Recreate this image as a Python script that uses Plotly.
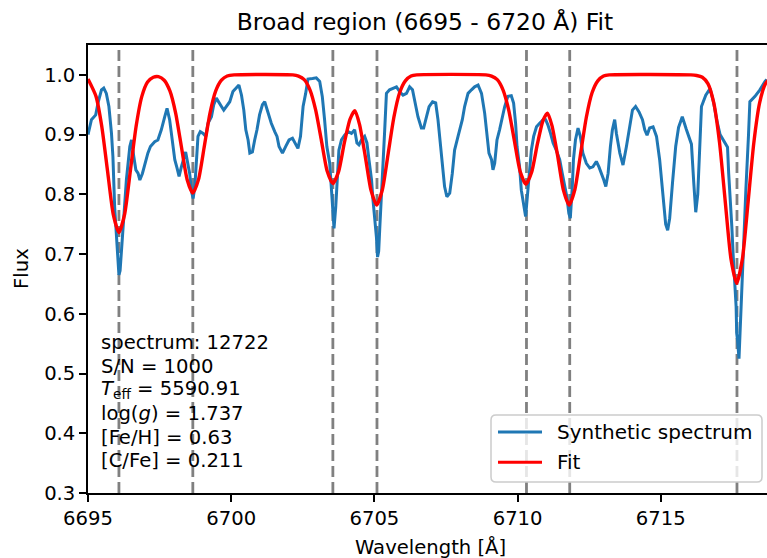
import plotly.graph_objects as go

# ---- data -------------------------------------------------------------
wavelength = [
    6695.00, 6695.12, 6695.27, 6695.35, 6695.47, 6695.55, 6695.64, 6695.73, 6695.82, 6695.87,
    6695.93, 6695.97, 6696.00, 6696.04, 6696.08, 6696.12, 6696.16, 6696.22, 6696.34, 6696.46,
    6696.52, 6696.60, 6696.67, 6696.75, 6696.81, 6696.90, 6696.98, 6697.09, 6697.18, 6697.33,
    6697.44, 6697.56, 6697.68, 6697.76, 6697.85, 6697.95, 6698.03, 6698.11, 6698.18, 6698.26,
    6698.34, 6698.41, 6698.46, 6698.55, 6698.62, 6698.67, 6698.73, 6698.78, 6698.84, 6698.92,
    6699.02, 6699.11, 6699.19, 6699.31, 6699.39, 6699.48, 6699.57, 6699.66, 6699.74, 6699.83,
    6699.95, 6700.06, 6700.18, 6700.27, 6700.36, 6700.44, 6700.51, 6700.59, 6700.65, 6700.74,
    6700.82, 6700.90, 6700.99, 6701.09, 6701.17, 6701.28, 6701.40, 6701.52, 6701.60, 6701.67,
    6701.79, 6701.90, 6702.02, 6702.14, 6702.25, 6702.33, 6702.42, 6702.51, 6702.60, 6702.68,
    6702.84, 6702.97, 6703.09, 6703.18, 6703.26, 6703.34, 6703.44, 6703.50, 6703.55, 6703.59,
    6703.65, 6703.69, 6703.76, 6703.85, 6703.96, 6704.08, 6704.20, 6704.31, 6704.39, 6704.46,
    6704.55, 6704.66, 6704.74, 6704.81, 6704.90, 6704.95, 6705.03, 6705.07, 6705.11, 6705.15,
    6705.19, 6705.28, 6705.36, 6705.42, 6705.53, 6705.67, 6705.77, 6705.88, 6706.00, 6706.12,
    6706.23, 6706.33, 6706.41, 6706.52, 6706.64, 6706.72, 6706.82, 6706.91, 6707.03, 6707.14,
    6707.22, 6707.30, 6707.37, 6707.45, 6707.53, 6707.63, 6707.72, 6707.80, 6707.92, 6708.07,
    6708.15, 6708.27, 6708.39, 6708.50, 6708.62, 6708.74, 6708.85, 6708.93, 6709.00, 6709.09,
    6709.14, 6709.20, 6709.28, 6709.37, 6709.47, 6709.55, 6709.66, 6709.78, 6709.86, 6709.93,
    6709.98, 6710.07, 6710.13, 6710.19, 6710.25, 6710.28, 6710.34, 6710.40, 6710.48, 6710.56,
    6710.66, 6710.77, 6710.89, 6710.98, 6711.06, 6711.15, 6711.24, 6711.35, 6711.47, 6711.56,
    6711.64, 6711.72, 6711.79, 6711.84, 6711.91, 6711.95, 6712.02, 6712.11, 6712.19, 6712.28,
    6712.40, 6712.52, 6712.63, 6712.75, 6712.84, 6712.93, 6713.01, 6713.08, 6713.16, 6713.24,
    6713.31, 6713.39, 6713.45, 6713.57, 6713.68, 6713.80, 6713.91, 6714.01, 6714.12, 6714.24,
    6714.36, 6714.44, 6714.52, 6714.61, 6714.73, 6714.85, 6714.96, 6715.07, 6715.17, 6715.24,
    6715.31, 6715.41, 6715.52, 6715.62, 6715.75, 6715.89, 6716.07, 6716.15, 6716.22, 6716.29,
    6716.36, 6716.42, 6716.57, 6716.68, 6716.72, 6716.84, 6716.95, 6717.07, 6717.16, 6717.24,
    6717.33, 6717.37, 6717.42, 6717.48, 6717.53, 6717.59, 6717.63, 6717.65, 6717.68, 6717.73,
    6717.77, 6717.82, 6717.88, 6717.97, 6718.06, 6718.11, 6718.29, 6718.46, 6718.64, 6718.70,
]
synthetic_flux = [
    0.900, 0.925, 0.933, 0.953, 0.975, 0.978, 0.969, 0.947, 0.902, 0.863,
    0.779, 0.746, 0.720, 0.700, 0.665, 0.672, 0.700, 0.724, 0.824, 0.880,
    0.891, 0.863, 0.841, 0.835, 0.824, 0.835, 0.849, 0.869, 0.880, 0.888,
    0.891, 0.908, 0.930, 0.944, 0.925, 0.891, 0.858, 0.844, 0.830, 0.846,
    0.858, 0.871, 0.858, 0.835, 0.804, 0.793, 0.813, 0.858, 0.897, 0.905,
    0.902, 0.897, 0.919, 0.930, 0.950, 0.961, 0.955, 0.947, 0.941, 0.947,
    0.955, 0.972, 0.978, 0.983, 0.966, 0.941, 0.908, 0.891, 0.869, 0.871,
    0.891, 0.908, 0.933, 0.950, 0.955, 0.936, 0.919, 0.905, 0.897, 0.880,
    0.869, 0.880, 0.891, 0.894, 0.883, 0.877, 0.897, 0.947, 0.969, 0.993,
    0.994, 0.995, 0.989, 0.964, 0.925, 0.880, 0.852, 0.807, 0.757, 0.743,
    0.779, 0.824, 0.874, 0.891, 0.899, 0.905, 0.902, 0.908, 0.886, 0.883,
    0.891, 0.897, 0.886, 0.858, 0.824, 0.791, 0.757, 0.729, 0.695, 0.705,
    0.746, 0.824, 0.908, 0.969, 0.975, 0.978, 0.980, 0.972, 0.966, 0.969,
    0.980, 0.975, 0.955, 0.930, 0.911, 0.911, 0.930, 0.947, 0.955, 0.953,
    0.925, 0.886, 0.846, 0.813, 0.796, 0.802, 0.835, 0.874, 0.897, 0.925,
    0.947, 0.969, 0.975, 0.980, 0.983, 0.969, 0.936, 0.902, 0.869, 0.858,
    0.841, 0.852, 0.891, 0.908, 0.930, 0.947, 0.964, 0.965, 0.953, 0.919,
    0.880, 0.846, 0.807, 0.791, 0.774, 0.763, 0.796, 0.835, 0.874, 0.897,
    0.913, 0.919, 0.925, 0.925, 0.916, 0.902, 0.886, 0.874, 0.858, 0.835,
    0.813, 0.796, 0.768, 0.760, 0.813, 0.858, 0.891, 0.911, 0.897, 0.869,
    0.852, 0.844, 0.846, 0.855, 0.846, 0.835, 0.824, 0.813, 0.835, 0.880,
    0.908, 0.925, 0.902, 0.869, 0.849, 0.880, 0.913, 0.941, 0.947, 0.938,
    0.925, 0.908, 0.899, 0.911, 0.913, 0.897, 0.858, 0.800, 0.750, 0.740,
    0.760, 0.820, 0.880, 0.912, 0.930, 0.909, 0.884, 0.820, 0.770, 0.800,
    0.880, 0.947, 0.966, 0.975, 0.977, 0.955, 0.925, 0.900, 0.893, 0.888,
    0.879, 0.835, 0.802, 0.746, 0.695, 0.651, 0.612, 0.567, 0.556, 0.525,
    0.573, 0.634, 0.723, 0.807, 0.897, 0.955, 0.964, 0.975, 0.989, 0.992,
]

fit_wavelength = [
    6695.00, 6695.28, 6695.48, 6695.68, 6695.88, 6696.08, 6696.28, 6696.48, 6696.68, 6696.88,
    6697.08, 6697.28, 6697.46, 6697.66, 6697.86, 6698.06, 6698.26, 6698.46, 6698.66, 6698.86,
    6699.06, 6699.26, 6699.46, 6699.66, 6699.86, 6700.10, 6702.15, 6702.35, 6702.55, 6702.75,
    6702.95, 6703.15, 6703.35, 6703.55, 6703.75, 6703.95, 6704.15, 6704.32, 6704.48, 6704.68,
    6704.88, 6705.08, 6705.28, 6705.48, 6705.68, 6705.88, 6706.08, 6706.28, 6706.48, 6708.89,
    6709.09, 6709.29, 6709.49, 6709.69, 6709.89, 6710.09, 6710.29, 6710.49, 6710.69, 6710.89,
    6711.045, 6711.20, 6711.40, 6711.60, 6711.80, 6712.00, 6712.20, 6712.40, 6712.60, 6712.80,
    6713.00, 6713.20, 6716.05, 6716.25, 6716.45, 6716.65, 6716.85, 6717.05, 6717.25, 6717.45,
    6717.65, 6717.85, 6718.05, 6718.25, 6718.45, 6718.65, 6718.85,
]
fit_flux = [
    0.993, 0.964, 0.914, 0.840, 0.767, 0.736, 0.767, 0.840, 0.914, 0.964,
    0.988, 0.996, 0.997, 0.991, 0.973, 0.936, 0.880, 0.825, 0.802, 0.825,
    0.880, 0.936, 0.973, 0.991, 0.998, 1.000, 1.000, 0.998, 0.992, 0.975,
    0.941, 0.890, 0.839, 0.818, 0.838, 0.886, 0.926, 0.940, 0.917, 0.864,
    0.807, 0.782, 0.808, 0.868, 0.929, 0.970, 0.990, 0.998, 1.000, 1.000,
    0.998, 0.992, 0.975, 0.941, 0.889, 0.838, 0.817, 0.837, 0.884, 0.924,
    0.936, 0.915, 0.864, 0.807, 0.782, 0.808, 0.868, 0.929, 0.970, 0.990,
    0.998, 1.000, 1.000, 0.999, 0.996, 0.985, 0.953, 0.887, 0.788, 0.692,
    0.651, 0.692, 0.788, 0.887, 0.953, 0.985, 0.996,
]

# fitted line centres
line_centers = [6696.08, 6698.66, 6703.55, 6705.09, 6710.31, 6711.82, 6717.66]

x_ticks = [6695, 6700, 6705, 6710, 6715]
y_ticks = [0.3, 0.4, 0.5, 0.6, 0.7, 0.8, 0.9, 1.0]

spectrum_id = 12722
snr = 1000
teff = 5590.91
logg = 1.737
fe_h = 0.63
c_fe = 0.211

legend_labels = ["Synthetic spectrum", "Fit"]
series_colors = ["#1f77b4", "#ff0000"]

# ---- layout geometry --------------------------------------------------
W, H = 767, 558
ML, MR, MT, MB = 88, 0, 45, 65
PW, PH = W - ML - MR, H - MT - MB
PX_PER_A = 28.64
FONT = "DejaVu Sans"


def px2x(px):
    return (px - ML) / PW


def py2y(py):
    return (MT + PH - py) / PH


fig = go.Figure()

fig.add_trace(go.Scatter(
    x=wavelength, y=synthetic_flux, mode="lines", name=legend_labels[0],
    line=dict(color=series_colors[0], width=3), showlegend=False,
))
fig.add_trace(go.Scatter(
    x=fit_wavelength, y=fit_flux, mode="lines", name=legend_labels[1],
    line=dict(color=series_colors[1], width=3.4, shape="spline", smoothing=0.6),
    showlegend=False,
))

shapes = []
for c in line_centers:
    shapes.append(dict(
        type="line", xref="x", yref="paper", x0=c, x1=c, y0=0, y1=1,
        line=dict(color="#808080", width=2.8, dash="11px,5px"), layer="below",
    ))

# legend box (rounded, translucent white)
lx0, lx1, ly0, ly1 = px2x(491), px2x(762), py2y(482), py2y(415)
rx, ry = 5 / PW, 5 / PH
path = (
    f"M{lx0 + rx},{ly0} L{lx1 - rx},{ly0} Q{lx1},{ly0} {lx1},{ly0 + ry} "
    f"L{lx1},{ly1 - ry} Q{lx1},{ly1} {lx1 - rx},{ly1} "
    f"L{lx0 + rx},{ly1} Q{lx0},{ly1} {lx0},{ly1 - ry} "
    f"L{lx0},{ly0 + ry} Q{lx0},{ly0} {lx0 + rx},{ly0} Z"
)
shapes.append(dict(
    type="path", xref="paper", yref="paper", path=path,
    fillcolor="rgba(255,255,255,0.8)", line=dict(color="#cccccc", width=1.5),
    layer="above",
))
annotations = []
for i, (lab, col) in enumerate(zip(legend_labels, series_colors)):
    yc = py2y(432 + 30.3 * i)
    shapes.append(dict(
        type="line", xref="paper", yref="paper", x0=px2x(498), x1=px2x(542),
        y0=yc, y1=yc, line=dict(color=col, width=3), layer="above",
    ))
    annotations.append(dict(
        x=px2x(555), y=yc, xref="paper", yref="paper", text=lab,
        showarrow=False, xanchor="left", yanchor="middle",
        font=dict(family=FONT, size=20, color="black"),
    ))

# parameter text block
info_lines = [
    f"spectrum: {spectrum_id}",
    f"S/N = {snr}",
    f"<i>T</i><sub>eff</sub> = {teff}",
    f"log(<i>g</i>) = {logg}",
    f"[Fe/H] = {fe_h}",
    f"[C/Fe] = {c_fe}",
]
for i, t in enumerate(info_lines):
    annotations.append(dict(
        x=px2x(98.5), y=py2y(342.3 + 23.7 * i), xref="paper", yref="paper",
        text=t, showarrow=False, xanchor="left", yanchor="middle",
        font=dict(family=FONT, size=19.6, color="black"),
    ))

# axis titles
annotations.append(dict(
    x=px2x(430), y=py2y(547), xref="paper", yref="paper", text="Wavelength [Å]",
    showarrow=False, xanchor="center", yanchor="middle",
    font=dict(family=FONT, size=19.6, color="black"),
))
annotations.append(dict(
    x=px2x(21), y=py2y(269), xref="paper", yref="paper", text="Flux",
    showarrow=False, xanchor="center", yanchor="middle", textangle=-90,
    font=dict(family=FONT, size=19.6, color="black"),
))

fig.update_layout(
    width=W, height=H,
    margin=dict(l=ML, r=MR, t=MT, b=MB, pad=0),
    paper_bgcolor="white", plot_bgcolor="white",
    font=dict(family=FONT, size=19.6, color="black"),
    title=dict(
        text="Broad region (6695 - 6720 Å) Fit",
        x=425 / W, xanchor="center", xref="container",
        y=1 - 22 / H, yanchor="middle", yref="container",
        font=dict(family=FONT, size=23.4, color="black"),
    ),
    shapes=shapes,
    annotations=annotations,
    showlegend=False,
)
fig.update_xaxes(
    range=[6695, 6695 + PW / PX_PER_A], tickvals=x_ticks,
    ticks="outside", ticklen=7, tickwidth=1.5, tickcolor="black",
    showline=True, linecolor="black", linewidth=1.5, mirror=True,
    showgrid=False, zeroline=False,
    tickfont=dict(family=FONT, size=19.6, color="black"),
)
fig.update_yaxes(
    range=[0.3, 1.05], tickvals=y_ticks, tickformat=".1f",
    ticks="outside", ticklen=7, tickwidth=1.5, tickcolor="black",
    showline=True, linecolor="black", linewidth=1.5, mirror=False,
    showgrid=False, zeroline=False,
    tickfont=dict(family=FONT, size=19.6, color="black"),
)

fig.write_html("out.html")
